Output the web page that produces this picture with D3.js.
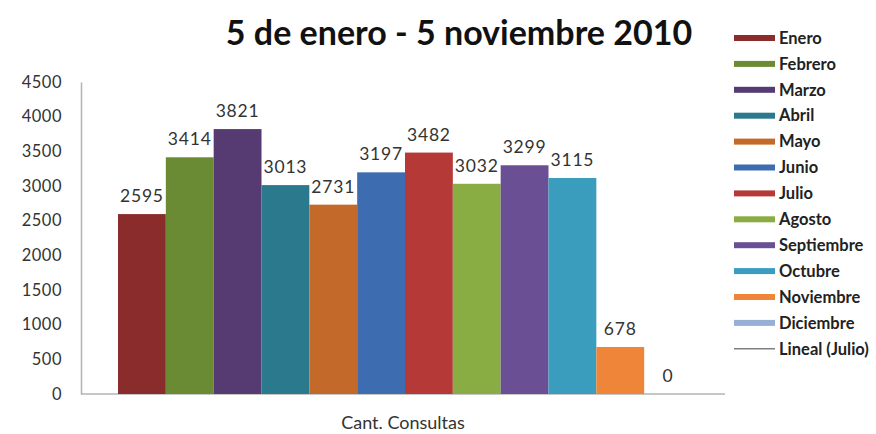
<!DOCTYPE html>
<html>
<head>
<meta charset="utf-8">
<script src="https://cdn.jsdelivr.net/npm/d3@7"></script>
<style>
  body { margin: 0; background: #fff; }
  text { font-family: Lato, "Open Sans", sans-serif; }
</style>
</head>
<body>
<div id="chart"></div>
<script>
// Datos
const meses = ["Enero", "Febrero", "Marzo", "Abril", "Mayo", "Junio", "Julio",
  "Agosto", "Septiembre", "Octubre", "Noviembre", "Diciembre"];
const consultas = [2595, 3414, 3821, 3013, 2731, 3197, 3482, 3032, 3299, 3115, 678, 0];
const colores = ["#8b2c2c", "#6b8a34", "#563b72", "#2b798d", "#c3692a", "#3d6cb1",
  "#b53a37", "#8aad43", "#6a4f94", "#3a9dbd", "#ee8538", "#97aed7"];
const ticksY = [0, 500, 1000, 1500, 2000, 2500, 3000, 3500, 4000, 4500];
const categoria = "Cant. Consultas";
const titulo = "5 de enero - 5 noviembre 2010";

const svg = d3.select("#chart").append("svg")
    .attr("width", 876)
    .attr("height", 434);

const x0 = 81, x1 = 725, yTop = 82, yBase = 394;

// Escalas
const yScale = d3.scaleLinear().domain([0, 4500]).range([yBase, yTop]);
const xBand = d3.scaleBand().domain(meses).range([118, 692]).padding(0);

// Eje Y
const yAxis = svg.append("g")
    .attr("transform", `translate(${x0},0)`)
    .call(d3.axisLeft(yScale).tickValues(ticksY).tickFormat(d3.format("d"))
        .tickSize(0).tickPadding(19));
yAxis.select(".domain").attr("stroke", "#b3b3b3").attr("stroke-width", 1.5);
yAxis.selectAll("text")
    .attr("fill", "#333")
    .style("font-size", "16.5px")
    .style("letter-spacing", "0.5px");

// Linea base
svg.append("line")
    .attr("x1", x0).attr("x2", x1)
    .attr("y1", yBase).attr("y2", yBase)
    .attr("stroke", "#b3b3b3").attr("stroke-width", 1.5);

// Barras
svg.selectAll("rect.bar")
    .data(consultas)
    .enter()
    .append("rect")
    .attr("class", "bar")
    .attr("x", (d, i) => xBand(meses[i]))
    .attr("y", d => yScale(d))
    .attr("width", xBand.bandwidth())
    .attr("height", d => yBase - yScale(d))
    .attr("fill", (d, i) => colores[i]);

// Etiquetas
svg.selectAll("text.lbl")
    .data(consultas)
    .enter()
    .append("text")
    .attr("class", "lbl")
    .attr("x", (d, i) => xBand(meses[i]) + xBand.bandwidth() / 2)
    .attr("y", d => yScale(d) - 12)
    .attr("text-anchor", "middle")
    .attr("fill", "#333")
    .style("font-size", "17.5px")
    .style("letter-spacing", "0.8px")
    .text(d => d);

// Titulo
svg.append("text")
    .attr("x", 459)
    .attr("y", 45)
    .attr("text-anchor", "middle")
    .style("font-size", "34px")
    .style("font-weight", "bold")
    .attr("fill", "#111")
    .text(titulo);

// Etiqueta de categoria
svg.append("text")
    .attr("x", 403)
    .attr("y", 429)
    .attr("text-anchor", "middle")
    .attr("fill", "#333")
    .style("font-size", "18px")
    .text(categoria);

// Leyenda
const leyenda = meses.map((m, i) => ({ nombre: m, color: colores[i], linea: false }))
    .concat([{ nombre: "Lineal (Julio)", color: "#7f7f7f", linea: true }]);

const item = svg.selectAll("g.ley")
    .data(leyenda)
    .enter()
    .append("g")
    .attr("class", "ley")
    .attr("transform", (d, i) => `translate(734,${38 + i * 25.9})`);

item.filter(d => !d.linea).append("rect")
    .attr("x", 0).attr("y", -3)
    .attr("width", 41).attr("height", 6)
    .attr("fill", d => d.color);

item.filter(d => d.linea).append("line")
    .attr("x1", 0).attr("x2", 41)
    .attr("y1", 0).attr("y2", 0)
    .attr("stroke", d => d.color).attr("stroke-width", 1.5);

item.append("text")
    .attr("x", 45)
    .attr("y", 0)
    .attr("dy", "0.35em")
    .attr("fill", "#222")
    .style("font-size", "16.5px")
    .style("font-weight", "bold")
    .text(d => d.nombre);
</script>
</body>
</html>
